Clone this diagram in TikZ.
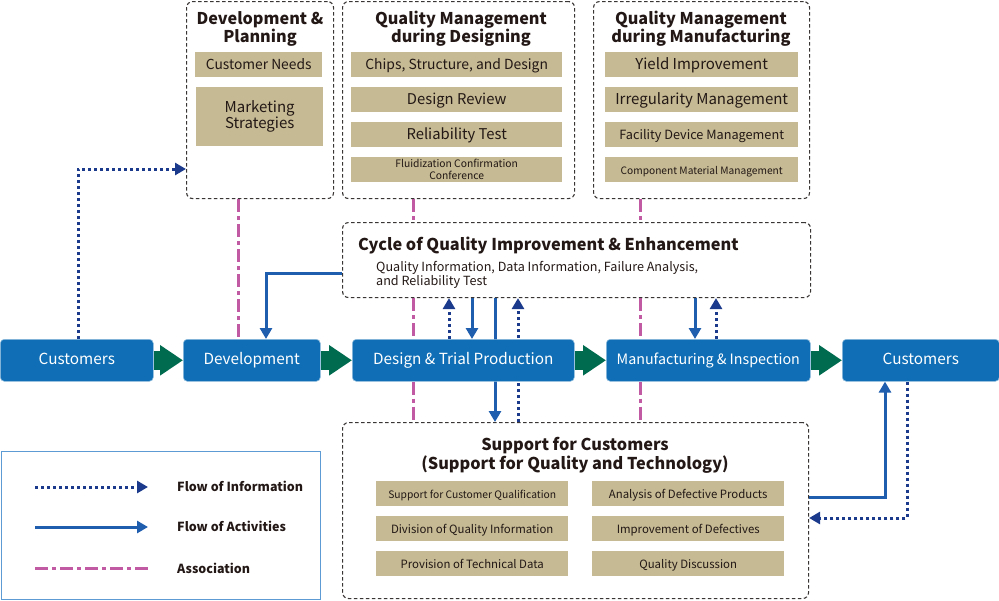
\documentclass[tikz,border=0pt]{standalone}
\usepackage{fontspec}
\setmainfont{Noto Sans CJK JP}
\usetikzlibrary{arrows.meta,backgrounds}
\definecolor{boxblue}{HTML}{0F6EB6}
\definecolor{tanfill}{HTML}{C5BA93}
\definecolor{arrgreen}{HTML}{006B4F}
\definecolor{actblue}{HTML}{1F5DAE}
\definecolor{infonavy}{HTML}{1B3A8C}
\definecolor{assocpink}{HTML}{C25AA3}
\definecolor{dashgray}{HTML}{3A3535}
\definecolor{legendborder}{HTML}{5C9BD3}
\definecolor{darktext}{HTML}{231815}
\newcommand{\fs}[2]{\fontsize{#1}{#2}\selectfont}
\begin{document}
\begin{tikzpicture}[x=1pt,y=-1pt,
  mainbox/.style={draw=boxblue!45!white, line width=0.6pt, fill=boxblue, rounded corners=4pt, text=white, font=\fs{15.3}{15.3}, inner sep=0pt, anchor=north west, text height=0.97em, text depth=0.07em},
  dbox/.style={draw=dashgray, dash pattern=on 3.5pt off 2.5pt, line width=1.1pt, rounded corners=6pt, inner sep=0pt, anchor=north west},
  tanbox/.style={fill=tanfill, inner sep=0pt, anchor=north west, text=darktext, align=center},
  tanone/.style={tanbox, text height=0.95em, text depth=0.07em},
  titletext/.style={text=darktext, align=center, inner sep=0pt, font=\fs{16.2}{16.5}\bfseries},
  greenarrow/.style={draw=arrgreen, line width=19pt, -{Triangle[length=23pt,width=29pt]}},
  infoarrow/.style={draw=infonavy, line width=3pt, dash pattern=on 3pt off 3pt, -{Triangle[length=11pt,width=12pt]}},
  actarrow/.style={draw=actblue, line width=3pt, -{Triangle[length=11pt,width=12pt]}},
  assoc/.style={draw=assocpink, line width=3pt, dash pattern=on 13pt off 4pt on 4pt off 4pt},
  legtext/.style={text=darktext, anchor=west, inner sep=0pt, font=\fs{12.5}{12.5}\bfseries}
]
\useasboundingbox (0,0) rectangle (999,600);

% main row
\node[mainbox, minimum width=153pt, minimum height=42pt] (cust1) at (0,339) {Customers};
\node[mainbox, minimum width=137pt, minimum height=42pt] (dev) at (183,339) {Development};
\node[mainbox, minimum width=222pt, minimum height=42pt] (design) at (352,339) {Design \& Trial Production};
\node[mainbox, minimum width=204pt, minimum height=42pt, font=\fs{14.3}{14.3}] (manuf) at (606,339) {Manufacturing \& Inspection};
\node[mainbox, minimum width=157pt, minimum height=42pt] (cust2) at (842,339) {Customers};

% top dashed boxes
\node[dbox, minimum width=147pt, minimum height=197pt] (devplan) at (186,1) {};
\node[dbox, minimum width=232pt, minimum height=197pt] (qmdes) at (342,1) {};
\node[dbox, minimum width=216pt, minimum height=197pt] (qmman) at (593,1) {};

\node[titletext] (t1) at (260,29) {Development \&\\Planning};
\node[titletext] (t2) at (461,29) {Quality Management\\during Designing};
\node[titletext] (t3) at (701,29) {Quality Management\\during Manufacturing};

\node[tanone, minimum width=127pt, minimum height=25pt, font=\fs{13.8}{13.8}] (cn) at (195,52) {Customer Needs};
\node[tanbox, minimum width=127pt, minimum height=59pt, font=\fs{15}{16}] (ms) at (196,87) {Marketing\\Strategies};

\node[tanone, minimum width=211pt, minimum height=25pt, font=\fs{13.9}{13.9}] (d1) at (351,52) {Chips, Structure, and Design};
\node[tanone, minimum width=211pt, minimum height=25pt, font=\fs{14.8}{14.8}] (d2) at (351,87) {Design Review};
\node[tanone, minimum width=211pt, minimum height=25pt, font=\fs{14.8}{14.8}] (d3) at (351,122) {Reliability Test};
\node[tanbox, minimum width=211pt, minimum height=25pt, font=\fs{10.3}{12}] (d4) at (351,157) {Fluidization Confirmation\\Conference};

\node[tanone, minimum width=193pt, minimum height=25pt, font=\fs{15}{15}] (m1) at (605,52) {Yield Improvement};
\node[tanone, minimum width=193pt, minimum height=25pt, font=\fs{15}{15}] (m2) at (605,87) {Irregularity Management};
\node[tanone, minimum width=193pt, minimum height=25pt, font=\fs{12.7}{12.7}] (m3) at (605,122) {Facility Device Management};
\node[tanone, minimum width=193pt, minimum height=25pt, font=\fs{10.2}{10.2}] (m4) at (605,157) {Component Material Management};

% cycle box
\node[dbox, minimum width=468pt, minimum height=75pt] (cycle) at (342,222) {};
\node[text=darktext, anchor=west, inner sep=0pt, font=\fs{16.3}{16.3}\bfseries] (ct) at (358,246) {Cycle of Quality Improvement \& Enhancement};
\node[text=darktext, anchor=west, inner sep=0pt, align=left, font=\fs{12.6}{12.6}] (cs) at (376,275) {Quality Information, Data Information, Failure Analysis,\\and Reliability Test};

% support box
\node[dbox, minimum width=466pt, minimum height=176pt] (support) at (342,422) {};
\node[titletext, font=\fs{16.3}{19}\bfseries] (st) at (575,455) {Support for Customers\\(Support for Quality and Technology)};
\node[tanone, minimum width=192pt, minimum height=25pt, font=\fs{10.3}{10.3}] (s1) at (376,481) {Support for Customer Qualification};
\node[tanone, minimum width=192pt, minimum height=25pt, font=\fs{11.4}{11.4}] (s2) at (376,516) {Division of Quality Information};
\node[tanone, minimum width=192pt, minimum height=25pt, font=\fs{11.4}{11.4}] (s3) at (376,551) {Provision of Technical Data};
\node[tanone, minimum width=192pt, minimum height=25pt, font=\fs{11.4}{11.4}] (s4) at (592,481) {Analysis of Defective Products};
\node[tanone, minimum width=192pt, minimum height=25pt, font=\fs{11.4}{11.4}] (s5) at (592,516) {Improvement of Defectives};
\node[tanone, minimum width=192pt, minimum height=25pt, font=\fs{11.4}{11.4}] (s6) at (592,551) {Quality Discussion};

% legend
\node[draw=legendborder, line width=1.2pt, minimum width=319pt, minimum height=148pt, inner sep=0pt, anchor=north west] (legend) at (0.8,450.5) {};
\coordinate (l1s) at (35,487); \coordinate (l1e) at (148,487);
\coordinate (l2s) at (35,527); \coordinate (l2e) at (148,527);
\coordinate (l3s) at (35,568); \coordinate (l3e) at (148,568);
\draw[infoarrow] (l1s) -- (l1e);
\draw[actarrow] (l2s) -- (l2e);
\draw[assoc] (l3s) -- (l3e);
\node[legtext] (lt1) at (177,486) {Flow of Information};
\node[legtext] (lt2) at (177,526) {Flow of Activities};
\node[legtext] (lt3) at (177,568) {Association};

% green process arrows
\draw[greenarrow] (cust1.east) -- (dev.west);
\draw[greenarrow] (dev.east) -- (design.west);
\draw[greenarrow] (design.east) -- (manuf.west);
\draw[greenarrow] (manuf.east) -- (cust2.west);

% connectors behind boxes
\begin{scope}[on background layer]
\draw[infoarrow] (cust1.north -| 78,0) |- (devplan.west |- 0,169);
\draw[assoc] (devplan.south -| 238,0) -- (dev.north -| 238,0);
\draw[assoc] (qmdes.south -| 413,0) -- (cycle.north -| 413,0);
\draw[assoc] (cycle.south -| 413,0) -- (design.north -| 413,0);
\draw[assoc] (design.south -| 413,0) -- (support.north -| 413,0);
\draw[assoc] (qmman.south -| 640,0) -- (cycle.north -| 640,0);
\draw[assoc] (cycle.south -| 640,0) -- (manuf.north -| 640,0);
\draw[assoc] (manuf.south -| 640,0) -- (support.north -| 640,0);
\draw[actarrow] (cycle.west |- 0,273) -| (dev.north -| 266,0);
\draw[infoarrow] (design.north -| 449,0) -- (cycle.south -| 449,0);
\draw[actarrow] (cycle.south -| 472,0) -- (design.north -| 472,0);
\draw[actarrow] (cycle.south -| 495,0) -- (support.north -| 495,0);
\draw[infoarrow] (support.north -| 518,0) -- (cycle.south -| 518,0);
\draw[actarrow] (cycle.south -| 695,0) -- (manuf.north -| 695,0);
\draw[infoarrow] (manuf.north -| 716,0) -- (cycle.south -| 716,0);
\draw[actarrow] (support.east |- 0,497) -| (cust2.south -| 885,0);
\draw[infoarrow] (cust2.south -| 907,0) |- (support.east |- 0,518);
\end{scope}
\end{tikzpicture}
\end{document}
